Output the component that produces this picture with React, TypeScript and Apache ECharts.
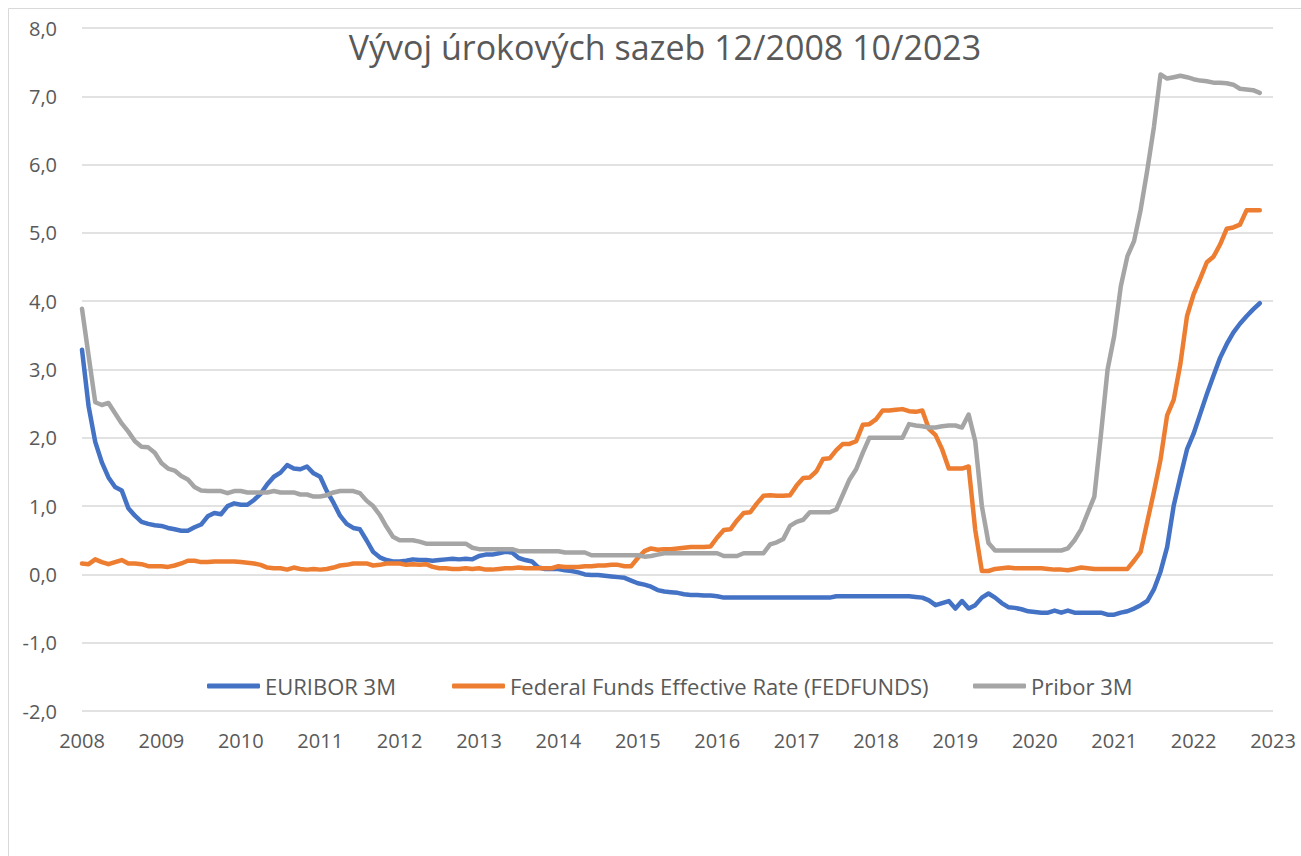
import React, { useEffect, useRef } from 'react';
import * as echarts from 'echarts';

const chartTitle = 'Vývoj úrokových sazeb 12/2008 10/2023';
const yearLabels = ['2008', '2009', '2010', '2011', '2012', '2013', '2014', '2015', '2016', '2017', '2018', '2019', '2020', '2021', '2022', '2023'];
const seriesNames = ['EURIBOR 3M', 'Federal Funds Effective Rate (FEDFUNDS)', 'Pribor 3M'];
const seriesColors = ['#4472C4', '#ED7D31', '#A5A5A5'];

// monthly values, 12/2008 .. 10/2023
const euribor3m = [
  3.29,
  2.46, 1.94, 1.64, 1.42, 1.28, 1.23, 0.97, 0.86, 0.77, 0.74, 0.72, 0.71,
  0.68, 0.66, 0.64, 0.64, 0.69, 0.73, 0.85, 0.90, 0.88, 1.00, 1.04, 1.02,
  1.02, 1.09, 1.18, 1.32, 1.43, 1.49, 1.60, 1.55, 1.54, 1.58, 1.48, 1.43,
  1.22, 1.05, 0.86, 0.74, 0.68, 0.66, 0.50, 0.33, 0.25, 0.21, 0.19, 0.19,
  0.20, 0.22, 0.21, 0.21, 0.20, 0.21, 0.22, 0.23, 0.22, 0.23, 0.22, 0.27,
  0.29, 0.29, 0.31, 0.33, 0.32, 0.24, 0.21, 0.19, 0.10, 0.08, 0.08, 0.08,
  0.06, 0.05, 0.03, 0.00, -0.01, -0.01, -0.02, -0.03, -0.04, -0.05, -0.09, -0.13,
  -0.15, -0.18, -0.23, -0.25, -0.26, -0.27, -0.29, -0.30, -0.30, -0.31, -0.31, -0.32,
  -0.34, -0.34, -0.34, -0.34, -0.34, -0.34, -0.34, -0.34, -0.34, -0.34, -0.34, -0.34,
  -0.34, -0.34, -0.34, -0.34, -0.34, -0.32, -0.32, -0.32, -0.32, -0.32, -0.32, -0.32,
  -0.32, -0.32, -0.32, -0.32, -0.32, -0.33, -0.34, -0.38, -0.45, -0.42, -0.39, -0.50,
  -0.39, -0.50, -0.45, -0.34, -0.28, -0.34, -0.42, -0.48, -0.49, -0.51, -0.54, -0.55,
  -0.56, -0.56, -0.53, -0.56, -0.53, -0.56, -0.56, -0.56, -0.56, -0.56, -0.59, -0.59,
  -0.56, -0.54, -0.50, -0.45, -0.39, -0.22, 0.04, 0.40, 1.01, 1.43, 1.83, 2.06,
  2.35, 2.64, 2.91, 3.17, 3.37, 3.54, 3.67, 3.78, 3.88, 3.97,
];

const fedFunds = [
  0.16,
  0.15, 0.22, 0.18, 0.15, 0.18, 0.21, 0.16, 0.16, 0.15, 0.12, 0.12, 0.12,
  0.11, 0.13, 0.16, 0.20, 0.20, 0.18, 0.18, 0.19, 0.19, 0.19, 0.19, 0.18,
  0.17, 0.16, 0.14, 0.10, 0.09, 0.09, 0.07, 0.10, 0.08, 0.07, 0.08, 0.07,
  0.08, 0.10, 0.13, 0.14, 0.16, 0.16, 0.16, 0.13, 0.14, 0.16, 0.16, 0.16,
  0.14, 0.15, 0.14, 0.15, 0.11, 0.09, 0.09, 0.08, 0.08, 0.09, 0.08, 0.09,
  0.07, 0.07, 0.08, 0.09, 0.09, 0.10, 0.09, 0.09, 0.09, 0.09, 0.09, 0.12,
  0.11, 0.11, 0.11, 0.12, 0.12, 0.13, 0.13, 0.14, 0.14, 0.12, 0.12, 0.24,
  0.34, 0.38, 0.36, 0.37, 0.37, 0.38, 0.39, 0.40, 0.40, 0.40, 0.41, 0.54,
  0.65, 0.66, 0.79, 0.90, 0.91, 1.04, 1.15, 1.16, 1.15, 1.15, 1.16, 1.30,
  1.41, 1.42, 1.51, 1.69, 1.70, 1.82, 1.91, 1.91, 1.95, 2.19, 2.20, 2.27,
  2.40, 2.40, 2.41, 2.42, 2.39, 2.38, 2.40, 2.13, 2.04, 1.83, 1.55, 1.55,
  1.55, 1.58, 0.65, 0.05, 0.05, 0.08, 0.09, 0.10, 0.09, 0.09, 0.09, 0.09,
  0.09, 0.08, 0.07, 0.07, 0.06, 0.08, 0.10, 0.09, 0.08, 0.08, 0.08, 0.08,
  0.08, 0.08, 0.20, 0.33, 0.77, 1.21, 1.68, 2.33, 2.56, 3.08, 3.78, 4.10,
  4.33, 4.57, 4.65, 4.83, 5.06, 5.08, 5.12, 5.33, 5.33, 5.33,
];

const pribor3m = [
  3.89,
  3.20, 2.52, 2.48, 2.51, 2.36, 2.21, 2.09, 1.95, 1.87, 1.86, 1.78, 1.63,
  1.55, 1.52, 1.44, 1.39, 1.28, 1.23, 1.22, 1.22, 1.22, 1.19, 1.22, 1.22,
  1.20, 1.20, 1.20, 1.20, 1.22, 1.20, 1.20, 1.20, 1.17, 1.17, 1.14, 1.14,
  1.16, 1.20, 1.22, 1.22, 1.22, 1.19, 1.08, 1.00, 0.87, 0.70, 0.55, 0.50,
  0.50, 0.50, 0.48, 0.45, 0.45, 0.45, 0.45, 0.45, 0.45, 0.45, 0.39, 0.37,
  0.37, 0.37, 0.37, 0.37, 0.37, 0.34, 0.34, 0.34, 0.34, 0.34, 0.34, 0.34,
  0.32, 0.32, 0.32, 0.32, 0.28, 0.28, 0.28, 0.28, 0.28, 0.28, 0.28, 0.28,
  0.26, 0.27, 0.29, 0.31, 0.31, 0.31, 0.31, 0.31, 0.31, 0.31, 0.31, 0.31,
  0.27, 0.27, 0.27, 0.31, 0.31, 0.31, 0.31, 0.44, 0.47, 0.52, 0.71, 0.77,
  0.80, 0.91, 0.91, 0.91, 0.91, 0.95, 1.17, 1.39, 1.54, 1.78, 2.00, 2.00,
  2.00, 2.00, 2.00, 2.00, 2.20, 2.18, 2.17, 2.15, 2.15, 2.17, 2.18, 2.18,
  2.15, 2.34, 1.95, 1.00, 0.46, 0.35, 0.35, 0.35, 0.35, 0.35, 0.35, 0.35,
  0.35, 0.35, 0.35, 0.35, 0.38, 0.50, 0.66, 0.90, 1.14, 2.05, 3.00, 3.49,
  4.22, 4.66, 4.88, 5.34, 5.92, 6.55, 7.32, 7.26, 7.28, 7.30, 7.28, 7.25,
  7.23, 7.22, 7.20, 7.20, 7.19, 7.17, 7.11, 7.10, 7.09, 7.05,
];

const seriesValues = [euribor3m, fedFunds, pribor3m];
const legendLefts = [207, 452, 973];

export default function App() {
  const ref = useRef<HTMLDivElement>(null);
  useEffect(() => {
    const chart = echarts.init(ref.current as HTMLDivElement, null, { renderer: 'svg' });
    const font = 'Open Sans';
    const textColor = '#595959';
    chart.setOption({
      animation: false,
      backgroundColor: '#ffffff',
      grid: { left: 82, right: 28, top: 28, bottom: 145, containLabel: false },
      graphic: [
        { type: 'line', shape: { x1: 8.5, y1: 8.5, x2: 1301, y2: 8.5 }, style: { stroke: '#d9d9d9', lineWidth: 1 }, silent: true },
        { type: 'line', shape: { x1: 8.5, y1: 8.5, x2: 8.5, y2: 856 }, style: { stroke: '#d9d9d9', lineWidth: 1 }, silent: true },
        {
          type: 'text', x: 665, y: 47,
          style: { text: chartTitle, fill: textColor, fontSize: 34, fontFamily: font, align: 'center', verticalAlign: 'middle' },
          silent: true,
        },
      ],
      xAxis: {
        type: 'value', min: 0, max: 180, interval: 12,
        axisLine: { show: false, onZero: false },
        axisTick: { show: false },
        splitLine: { show: false },
        axisLabel: {
          color: textColor, fontSize: 20, fontFamily: font, margin: 19,
          formatter: (v: number) => yearLabels[Math.round(v / 12)] ?? '',
        },
      },
      yAxis: {
        type: 'value', min: -2, max: 8, interval: 1,
        axisLine: { show: false },
        axisTick: { show: false },
        splitLine: { lineStyle: { color: '#d9d9d9', width: 1.5 } },
        axisLabel: {
          color: textColor, fontSize: 20, fontFamily: font, margin: 25,
          formatter: (v: number) => v.toFixed(1).replace('.', ','),
        },
      },
      legend: seriesNames.map((name, i) => ({
        data: [name],
        left: legendLefts[i],
        top: 675,
        padding: 0,
        itemWidth: 53,
        itemHeight: 5,
        icon: 'roundRect',
        textStyle: { color: textColor, fontSize: 22, fontFamily: font },
        selectedMode: false,
      })),
      series: seriesNames.map((name, i) => ({
        name,
        type: 'line',
        data: seriesValues[i].map((v, k) => [k, v]),
        showSymbol: false,
        symbol: 'none',
        color: seriesColors[i],
        lineStyle: { color: seriesColors[i], width: 4.5, cap: 'round', join: 'round' },
      })),
    });
    return () => chart.dispose();
  }, []);
  return <div ref={ref} style={{ position: 'fixed', left: 0, top: 0, width: 1301, height: 856, background: '#fff' }} />;
}
